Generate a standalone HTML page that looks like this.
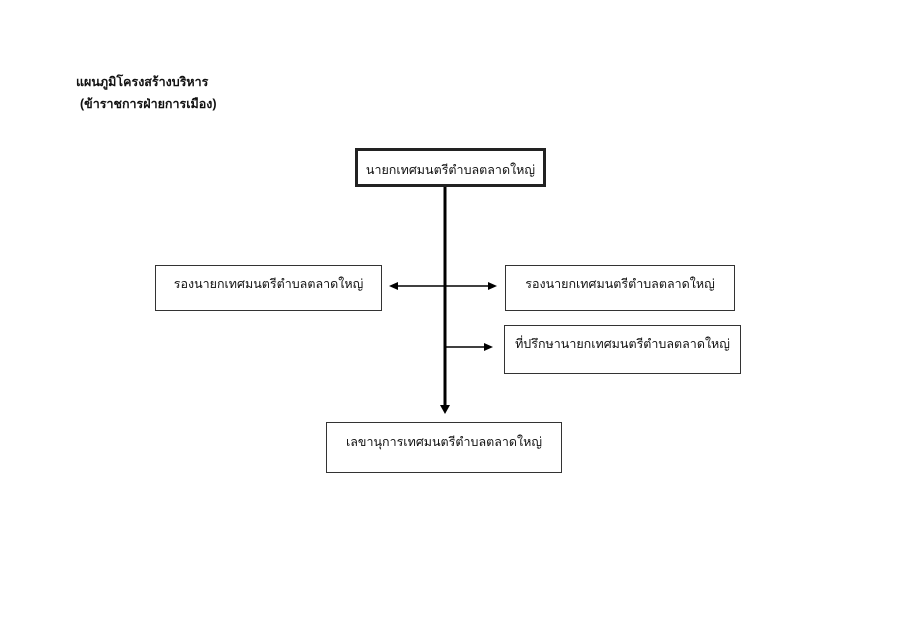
<!DOCTYPE html>
<html><head><meta charset="utf-8"><style>
body{margin:0;width:900px;height:636px;background:#fff;position:relative;font-family:"Liberation Sans","DejaVu Sans",sans-serif;color:#111;overflow:hidden}
.t{position:absolute;font-size:12.5px;white-space:nowrap}
.b{position:absolute;border:1px solid #333;box-sizing:border-box;font-size:12.5px;text-align:center;white-space:nowrap}
</style></head><body>
<div class="t" style="left:76px;top:72px;font-weight:bold">แผนภูมิโครงสร้างบริหาร</div>
<div class="t" style="left:80px;top:94px;font-weight:bold">(ข้าราชการฝ่ายการเมือง)</div>
<div class="b" style="left:355px;top:148px;width:191px;height:39px;border:3px solid #222;padding-top:9px">นายกเทศมนตรีตำบลตลาดใหญ่</div>
<div class="b" style="left:155px;top:265px;width:227px;height:46px;padding-top:8px">รองนายกเทศมนตรีตำบลตลาดใหญ่</div>
<div class="b" style="left:505px;top:265px;width:230px;height:46px;padding-top:8px">รองนายกเทศมนตรีตำบลตลาดใหญ่</div>
<div class="b" style="left:504px;top:325px;width:237px;height:49px;padding-top:8px">ที่ปรึกษานายกเทศมนตรีตำบลตลาดใหญ่</div>
<div class="b" style="left:326px;top:422px;width:236px;height:51px;padding-top:9px">เลขานุการเทศมนตรีตำบลตลาดใหญ่</div>
<svg width="900" height="636" style="position:absolute;left:0;top:0">
<line x1="445" y1="187" x2="445" y2="406" stroke="#000" stroke-width="3"/>
<polygon points="440,405 450,405 445,414" fill="#000"/>
<line x1="396" y1="286" x2="490" y2="286" stroke="#000" stroke-width="1.5"/>
<polygon points="389,286 398,282 398,290" fill="#000"/>
<polygon points="497,286 488,282 488,290" fill="#000"/>
<line x1="445" y1="347" x2="486" y2="347" stroke="#000" stroke-width="1.5"/>
<polygon points="493,347 484,343 484,351" fill="#000"/>
</svg>
</body></html>
